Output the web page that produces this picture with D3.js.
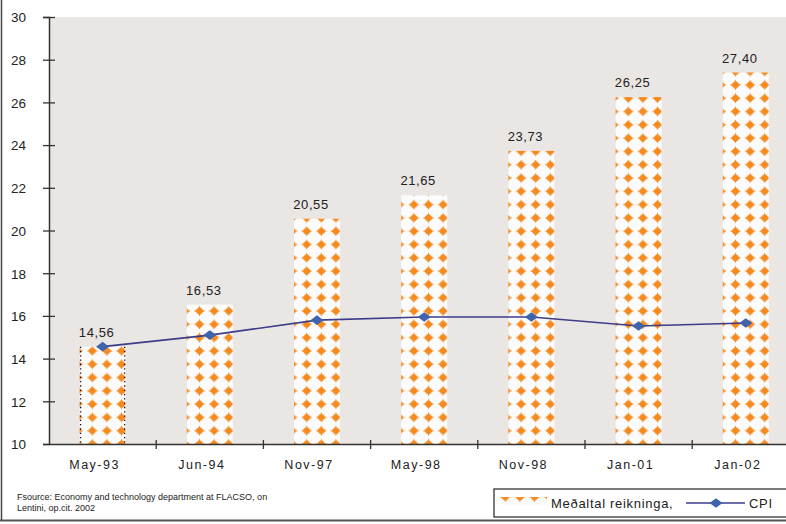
<!DOCTYPE html>
<html>
<head>
<meta charset="utf-8">
<script src="https://cdn.jsdelivr.net/npm/d3@7"></script>
<style>
  body { margin: 0; background: #fff; }
  svg { display: block; font-family: "Liberation Sans", Arial, sans-serif; }
</style>
</head>
<body>
<svg id="chart" width="786" height="524"></svg>
<script>
var categories = ["May-93", "Jun-94", "Nov-97", "May-98", "Nov-98", "Jan-01", "Jan-02"]
var avgBill = [14.56, 16.53, 20.55, 21.65, 23.73, 26.25, 27.40]
var cpi = [14.56, 15.10, 15.80, 15.95, 15.95, 15.53, 15.67]
var yTicks = [10, 12, 14, 16, 18, 20, 22, 24, 26, 28, 30]
var seriesNames = ["Meðaltal reikninga,", "CPI"]
var sourceLines = ["Fsource: Economy and technology department at FLACSO, on", "Lentini, op.cit. 2002"]

var orange = "#f58a1f"
var navy = "#3d3d8a"
var svg = d3.select("#chart")
var defs = svg.append("defs")

var plotLeft = 49, plotTop = 17, plotBottom = 444, step = 107.2
var x = d3.scaleBand().domain(categories).range([plotLeft, plotLeft + step * categories.length]).padding(0)
var y = d3.scaleLinear().domain([10, 30]).range([plotBottom, plotTop])
var barW = 46

// star shape used by the bar pattern
function star(g, cx, cy) {
    var w = 5.8, h = 5.2
    g.append("path")
        .attr("d", "M" + (cx - w) + "," + cy +
            " Q" + (cx - 1.5) + "," + (cy - 1.2) + " " + cx + "," + (cy - h) +
            " Q" + (cx + 1.5) + "," + (cy - 1.2) + " " + (cx + w) + "," + cy +
            " Q" + (cx + 1.5) + "," + (cy + 1.2) + " " + cx + "," + (cy + h) +
            " Q" + (cx - 1.5) + "," + (cy + 1.2) + " " + (cx - w) + "," + cy + "Z")
        .attr("fill", orange)
    g.append("circle").attr("cx", cx).attr("cy", cy).attr("r", 3.2).attr("fill", orange)
}

function makePattern(id, px, py) {
    var p = defs.append("pattern").attr("id", id)
        .attr("patternUnits", "userSpaceOnUse")
        .attr("x", px).attr("y", py)
        .attr("width", 14.6).attr("height", 13.3)
    p.append("rect").attr("width", 14.6).attr("height", 13.3).attr("fill", "#fbfbfb")
    star(p, 7.3, 6.65)
}

// plot background
svg.append("rect").attr("x", plotLeft).attr("y", plotTop)
    .attr("width", 786 - plotLeft).attr("height", plotBottom - plotTop)
    .attr("fill", "#e9e6e3")

// bars
categories.forEach(function(c, i) {
    var bx = x(c) + x.bandwidth() / 2 - barW / 2
    makePattern("pat" + i, bx - 9.2, plotBottom - 13.3 * 0.5)
})
svg.append("g").selectAll("rect").data(categories).join("rect")
    .attr("x", function(c) { return x(c) + x.bandwidth() / 2 - barW / 2 })
    .attr("y", function(c, i) { return y(avgBill[i]) })
    .attr("width", barW)
    .attr("height", function(c, i) { return plotBottom - y(avgBill[i]) })
    .attr("fill", function(c, i) { return "url(#pat" + i + ")" })

// dotted selection edges on the first bar
var b0 = x(categories[0]) + x.bandwidth() / 2 - barW / 2
svg.append("g").selectAll("line").data([b0 + 1, b0 + barW - 1]).join("line")
    .attr("x1", function(d) { return d }).attr("x2", function(d) { return d })
    .attr("y1", y(avgBill[0])).attr("y2", plotBottom)
    .attr("stroke", "#111").attr("stroke-width", 1.3)
    .attr("stroke-dasharray", "1.3,3")

// value labels
svg.append("g").selectAll("text").data(categories).join("text")
    .attr("x", function(c) { return x(c) + x.bandwidth() / 2 - 6 })
    .attr("y", function(c, i) { return y(avgBill[i]) - 10 })
    .attr("text-anchor", "middle")
    .attr("font-size", "13px")
    .attr("letter-spacing", "0.6px")
    .attr("fill", "#222")
    .text(function(c, i) { return avgBill[i].toFixed(2).replace(".", ",") })

// CPI line
var line = d3.line()
    .x(function(d, i) { return x(categories[i]) + x.bandwidth() / 2 })
    .y(function(d) { return y(d) })
svg.append("path").datum(cpi).attr("d", line)
    .attr("fill", "none").attr("stroke", navy).attr("stroke-width", 1.6)
var diamond = "M-6.5,0L0,-4.8L6.5,0L0,4.8Z"
svg.append("g").selectAll("path").data(cpi).join("path")
    .attr("transform", function(d, i) { return "translate(" + (x(categories[i]) + x.bandwidth() / 2) + "," + y(d) + ")" })
    .attr("d", diamond)
    .attr("fill", "#3f63ad")

// y axis
var yAxis = svg.append("g").attr("transform", "translate(" + plotLeft + ",0)")
    .call(d3.axisLeft(y).tickValues(yTicks).tickSize(6).tickFormat(d3.format("d")))
yAxis.select(".domain").attr("stroke", "#333").attr("stroke-width", 1.5)
yAxis.selectAll(".tick line").attr("x1", -6).attr("x2", function(d) { return d === 10 ? 0 : 6 })
    .attr("stroke", "#333").attr("stroke-width", 1.3)
yAxis.selectAll(".tick text").attr("x", -23).attr("dy", "0.36em")
    .attr("font-size", "13.5px").attr("fill", "#222")
    .attr("font-family", "Liberation Sans, Arial, sans-serif")

// x axis
var xAxis = svg.append("g").attr("transform", "translate(0," + plotBottom + ")")
    .call(d3.axisBottom(x).tickSize(0).tickPadding(16))
xAxis.select(".domain").attr("stroke", "#333").attr("stroke-width", 1.5)
xAxis.selectAll(".tick text").attr("font-size", "12.5px").attr("fill", "#222")
    .attr("letter-spacing", "1.5px").attr("dx", -8)
    .attr("font-family", "Liberation Sans, Arial, sans-serif")
var edges = categories.map(function(c) { return x(c) })
svg.append("g").selectAll("line").data(edges.slice(1)).join("line")
    .attr("x1", function(d) { return d }).attr("x2", function(d) { return d })
    .attr("y1", plotBottom - 4).attr("y2", plotBottom + 5)
    .attr("stroke", "#333").attr("stroke-width", 1.3)

// source note
svg.append("g").selectAll("text").data(sourceLines).join("text")
    .attr("x", 17).attr("y", function(d, i) { return 500 + i * 11 })
    .attr("font-size", "9px")
    .attr("font-family", "Liberation Sans Narrow, Liberation Sans, Arial, sans-serif")
    .attr("fill", "#222")
    .text(function(d) { return d })

// legend
var lg = svg.append("g")
lg.append("rect").attr("x", 494).attr("y", 489).attr("width", 300).attr("height", 28)
    .attr("fill", "#fff").attr("stroke", "#222").attr("stroke-width", 1.2)
makePattern("patLegend", 500 - 2, 497 - 6.65)
lg.append("rect").attr("x", 500).attr("y", 497).attr("width", 47).attr("height", 8)
    .attr("fill", "url(#patLegend)")
lg.append("text").attr("x", 551).attr("y", 508)
    .attr("font-size", "13px").attr("letter-spacing", "0.7px").attr("fill", "#222")
    .text(seriesNames[0])
lg.append("line").attr("x1", 686).attr("x2", 745).attr("y1", 503).attr("y2", 503)
    .attr("stroke", navy).attr("stroke-width", 1.6)
lg.append("path").attr("transform", "translate(716,503)").attr("d", diamond).attr("fill", "#3f63ad")
lg.append("text").attr("x", 749).attr("y", 508)
    .attr("font-size", "13px").attr("letter-spacing", "0.7px").attr("fill", "#222")
    .text(seriesNames[1])

// outer frame
svg.append("line").attr("x1", 1.5).attr("x2", 1.5).attr("y1", 0).attr("y2", 521)
    .attr("stroke", "#444").attr("stroke-width", 1.5)
svg.append("line").attr("x1", 0).attr("x2", 786).attr("y1", 520.5).attr("y2", 520.5)
    .attr("stroke", "#555").attr("stroke-width", 2)
</script>
</body>
</html>
